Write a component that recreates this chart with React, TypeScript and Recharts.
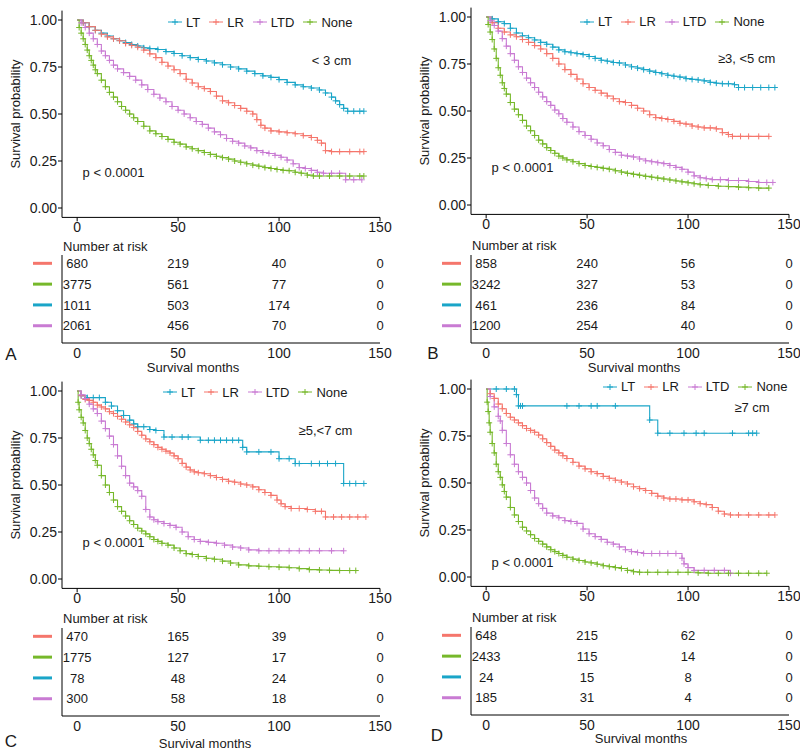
import React from "react";
import {
  LineChart,
  Line,
  XAxis,
  YAxis,
  Legend,
  ReferenceDot,
  ScatterChart,
  Scatter,
} from "recharts";

const FONT = "'Liberation Sans', Arial, Helvetica, sans-serif";
const INK = "#1a1a1a";

const groups = ["LT", "LR", "LTD", "None"];
const colors: Record<string, string> = {
  LT: "#1aa5c8",
  LR: "#f5766c",
  LTD: "#c97bd3",
  None: "#76b82a",
};
const riskOrder = ["LR", "None", "LT", "LTD"];
const riskTimes = [0, 50, 100, 150];

// A: < 3 cm
const aLT = [[0,1],[3,0.985],[6,0.965],[9,0.945],[12,0.93],[15,0.915],[18,0.9],[21,0.89],[24,0.88],[27,0.87],[30,0.862],[33,0.852],[36,0.848],[40,0.843],[44,0.832],[48,0.822],[52,0.81],[56,0.8],[60,0.79],[64,0.782],[68,0.772],[72,0.762],[76,0.75],[80,0.74],[84,0.728],[88,0.715],[92,0.703],[96,0.695],[100,0.683],[104,0.668],[108,0.655],[112,0.645],[116,0.638],[120,0.628],[123,0.612],[126,0.59],[128,0.57],[130,0.55],[132,0.53],[134,0.515],[137,0.515],[140,0.515],[142,0.515]];
const aLR = [[0,1],[3,0.985],[6,0.965],[9,0.945],[12,0.925],[15,0.91],[18,0.9],[21,0.89],[24,0.875],[27,0.865],[30,0.855],[33,0.84],[36,0.82],[39,0.8],[42,0.775],[45,0.755],[48,0.735],[51,0.715],[54,0.685],[57,0.665],[60,0.645],[63,0.635],[66,0.62],[69,0.595],[72,0.57],[75,0.56],[78,0.545],[81,0.53],[84,0.515],[87,0.5],[89,0.47],[91,0.44],[93,0.425],[96,0.41],[100,0.405],[104,0.4],[108,0.395],[112,0.385],[116,0.375],[119,0.36],[121,0.345],[123,0.305],[126,0.3],[130,0.3],[135,0.3],[140,0.3],[142,0.3]];
const aLTD = [[0,1],[2,0.985],[4,0.96],[6,0.93],[8,0.9],[10,0.87],[12,0.835],[14,0.81],[16,0.785],[18,0.76],[20,0.74],[23,0.72],[26,0.7],[29,0.68],[32,0.655],[35,0.63],[38,0.605],[41,0.585],[44,0.565],[47,0.54],[50,0.52],[53,0.5],[56,0.48],[59,0.46],[62,0.445],[65,0.425],[68,0.405],[71,0.39],[74,0.37],[77,0.355],[80,0.345],[83,0.33],[86,0.32],[89,0.305],[92,0.295],[95,0.29],[98,0.28],[101,0.27],[104,0.255],[107,0.235],[110,0.215],[113,0.21],[116,0.2],[119,0.19],[122,0.185],[126,0.185],[130,0.185],[133,0.15],[137,0.15],[141,0.15]];
const aNone = [[0,1],[1,0.96],[2,0.93],[3,0.9],[4,0.87],[5,0.84],[6,0.81],[7,0.785],[8,0.76],[9,0.735],[10,0.715],[12,0.68],[14,0.645],[16,0.615],[18,0.59],[20,0.565],[22,0.54],[24,0.52],[26,0.5],[28,0.48],[30,0.46],[33,0.435],[36,0.41],[39,0.395],[42,0.38],[45,0.365],[48,0.35],[51,0.34],[54,0.325],[57,0.315],[60,0.305],[63,0.295],[66,0.285],[69,0.275],[72,0.268],[75,0.26],[78,0.25],[81,0.243],[84,0.235],[87,0.228],[90,0.222],[93,0.215],[96,0.21],[99,0.205],[102,0.2],[105,0.198],[108,0.19],[111,0.185],[114,0.175],[117,0.17],[120,0.17],[125,0.17],[130,0.17],[135,0.17],[140,0.17],[142,0.17]];
const aRisk = [[680,219,40,0],[3775,561,77,0],[1011,503,174,0],[2061,456,70,0]];

// B: >=3, <5 cm
const bLT = [[0,1],[3,0.99],[6,0.975],[9,0.965],[12,0.94],[15,0.915],[18,0.9],[21,0.89],[24,0.878],[27,0.865],[30,0.855],[33,0.84],[36,0.825],[39,0.815],[42,0.81],[45,0.805],[48,0.8],[51,0.79],[54,0.78],[57,0.77],[60,0.765],[63,0.758],[66,0.755],[69,0.745],[72,0.735],[75,0.728],[78,0.72],[81,0.712],[84,0.705],[87,0.698],[90,0.69],[93,0.685],[96,0.68],[99,0.672],[102,0.668],[105,0.665],[108,0.66],[111,0.652],[114,0.648],[117,0.645],[120,0.645],[123,0.64],[125,0.625],[128,0.625],[132,0.625],[136,0.625],[140,0.625],[143,0.625]];
const bLR = [[0,1],[3,0.97],[6,0.94],[9,0.92],[12,0.905],[15,0.895],[18,0.88],[21,0.865],[24,0.848],[27,0.83],[30,0.805],[33,0.78],[36,0.75],[39,0.72],[42,0.695],[45,0.67],[48,0.645],[51,0.625],[54,0.61],[57,0.595],[60,0.58],[63,0.565],[66,0.55],[69,0.545],[72,0.53],[75,0.515],[78,0.5],[81,0.48],[84,0.465],[87,0.46],[90,0.455],[93,0.445],[96,0.435],[99,0.43],[102,0.42],[105,0.415],[108,0.41],[111,0.41],[114,0.405],[117,0.385],[120,0.375],[122,0.365],[126,0.365],[130,0.365],[135,0.365],[140,0.365]];
const bLTD = [[0,1],[2,0.98],[4,0.955],[6,0.925],[8,0.885],[10,0.845],[12,0.805],[14,0.77],[16,0.735],[18,0.705],[20,0.675],[22,0.65],[24,0.625],[26,0.6],[28,0.575],[30,0.55],[32,0.53],[34,0.505],[36,0.485],[38,0.46],[40,0.44],[43,0.415],[46,0.39],[49,0.37],[52,0.35],[55,0.33],[58,0.315],[61,0.295],[64,0.28],[67,0.265],[70,0.26],[73,0.255],[76,0.245],[79,0.235],[82,0.23],[85,0.225],[88,0.22],[91,0.21],[94,0.2],[97,0.19],[100,0.175],[103,0.155],[106,0.145],[109,0.14],[112,0.135],[116,0.135],[120,0.13],[125,0.13],[130,0.125],[135,0.12],[139,0.12],[142,0.12]];
const bNone = [[0,1],[1,0.96],[2,0.92],[3,0.88],[4,0.83],[5,0.78],[6,0.73],[7,0.69],[8,0.65],[9,0.62],[10,0.59],[12,0.545],[14,0.51],[16,0.48],[18,0.45],[20,0.42],[22,0.395],[24,0.37],[26,0.345],[28,0.325],[30,0.305],[32,0.29],[34,0.275],[36,0.26],[38,0.25],[40,0.24],[43,0.23],[46,0.22],[49,0.21],[52,0.205],[55,0.2],[58,0.195],[61,0.19],[64,0.182],[67,0.175],[70,0.168],[73,0.163],[76,0.158],[79,0.152],[82,0.148],[85,0.143],[88,0.138],[91,0.133],[94,0.128],[97,0.123],[100,0.118],[103,0.113],[106,0.108],[110,0.104],[115,0.1],[120,0.098],[125,0.095],[130,0.092],[135,0.09],[140,0.09]];
const bRisk = [[858,240,56,0],[3242,327,53,0],[461,236,84,0],[1200,254,40,0]];

// C: >=5, <7 cm
const cLT = [[0,1],[2,0.975],[5,0.965],[8,0.965],[11,0.965],[14,0.94],[17,0.92],[20,0.895],[23,0.87],[26,0.845],[28,0.825],[30,0.81],[33,0.81],[36,0.795],[39,0.79],[43,0.755],[47,0.755],[52,0.755],[55,0.755],[61,0.738],[65,0.738],[68,0.738],[71,0.738],[74,0.738],[77,0.738],[80,0.738],[82,0.7],[84,0.676],[90,0.676],[96,0.676],[100,0.64],[105,0.64],[108,0.614],[110,0.614],[116,0.614],[120,0.614],[124,0.614],[128,0.614],[132,0.508],[135,0.508],[138,0.508],[142,0.508]];
const cLR = [[0,1],[2,0.975],[4,0.955],[6,0.95],[8,0.94],[10,0.925],[12,0.915],[14,0.905],[16,0.89],[18,0.88],[20,0.865],[22,0.85],[24,0.835],[26,0.82],[28,0.805],[30,0.785],[32,0.765],[34,0.745],[36,0.73],[38,0.715],[40,0.7],[42,0.69],[44,0.68],[46,0.67],[48,0.655],[50,0.64],[52,0.615],[54,0.595],[56,0.58],[58,0.57],[60,0.565],[63,0.56],[66,0.55],[69,0.54],[72,0.53],[75,0.52],[78,0.515],[81,0.505],[84,0.5],[87,0.49],[90,0.475],[93,0.46],[96,0.445],[99,0.42],[101,0.4],[103,0.385],[106,0.375],[110,0.375],[114,0.37],[118,0.36],[121,0.36],[123,0.33],[127,0.33],[131,0.33],[135,0.33],[139,0.33],[143,0.33]];
const cLTD = [[0,1],[2,0.98],[4,0.96],[6,0.93],[8,0.905],[10,0.88],[12,0.84],[14,0.8],[16,0.76],[18,0.715],[20,0.655],[22,0.6],[24,0.55],[26,0.51],[28,0.49],[30,0.47],[32,0.44],[34,0.37],[36,0.33],[38,0.315],[40,0.305],[43,0.295],[46,0.285],[49,0.275],[52,0.25],[55,0.225],[58,0.21],[61,0.2],[65,0.195],[69,0.19],[73,0.18],[77,0.17],[81,0.165],[85,0.155],[90,0.15],[95,0.15],[100,0.15],[105,0.15],[110,0.15],[115,0.15],[120,0.15],[126,0.15],[132,0.15]];
const cNone = [[0,1],[0.5,0.94],[1,0.9],[2,0.86],[3,0.83],[4,0.79],[5,0.75],[6,0.72],[7,0.69],[8,0.66],[9,0.63],[10,0.605],[12,0.55],[14,0.5],[16,0.46],[18,0.42],[20,0.385],[22,0.36],[24,0.335],[26,0.31],[28,0.29],[30,0.27],[32,0.255],[34,0.24],[36,0.225],[38,0.21],[40,0.2],[42,0.19],[45,0.18],[48,0.165],[51,0.15],[54,0.135],[57,0.13],[60,0.12],[64,0.11],[68,0.105],[72,0.095],[76,0.085],[80,0.075],[85,0.07],[90,0.068],[95,0.065],[100,0.063],[105,0.06],[110,0.055],[115,0.05],[120,0.048],[125,0.046],[130,0.045],[135,0.045],[138,0.045]];
const cRisk = [[470,165,39,0],[1775,127,17,0],[78,48,24,0],[300,58,18,0]];

// D: >=7 cm
const dLT = [[0,1],[5,1],[10,1],[14,1],[15,0.97],[16,0.91],[17,0.91],[18,0.91],[40,0.91],[46,0.91],[52,0.91],[55,0.91],[64,0.91],[81,0.835],[85,0.765],[91,0.765],[98,0.765],[104,0.765],[108,0.765],[122,0.765],[130,0.765],[132,0.765],[134,0.765]];
const dLR = [[0,1],[2,0.975],[4,0.95],[6,0.92],[8,0.895],[10,0.87],[12,0.85],[14,0.835],[16,0.82],[18,0.805],[20,0.79],[22,0.78],[24,0.77],[26,0.755],[28,0.735],[30,0.715],[32,0.695],[34,0.675],[36,0.66],[38,0.645],[40,0.63],[43,0.61],[46,0.59],[49,0.575],[52,0.56],[55,0.55],[58,0.535],[61,0.525],[64,0.515],[67,0.505],[70,0.495],[73,0.48],[76,0.47],[79,0.46],[82,0.445],[85,0.43],[88,0.42],[91,0.415],[94,0.415],[97,0.41],[100,0.41],[103,0.4],[106,0.39],[109,0.385],[112,0.37],[115,0.35],[118,0.335],[121,0.33],[125,0.33],[130,0.33],[135,0.33],[140,0.33],[143,0.33]];
const dLTD = [[0,1],[2,0.96],[4,0.905],[6,0.855],[7,0.83],[8,0.78],[10,0.71],[12,0.65],[14,0.6],[16,0.56],[18,0.53],[20,0.5],[22,0.46],[24,0.42],[26,0.39],[28,0.365],[30,0.34],[33,0.325],[36,0.315],[39,0.3],[42,0.295],[45,0.285],[48,0.255],[51,0.23],[54,0.215],[57,0.2],[60,0.185],[63,0.175],[66,0.16],[69,0.145],[72,0.135],[75,0.13],[78,0.125],[82,0.125],[86,0.125],[90,0.125],[94,0.125],[97,0.1],[98,0.07],[100,0.05],[103,0.035],[108,0.035],[113,0.035],[118,0.035],[121,0.02]];
const dNone = [[0,1],[0.5,0.93],[1,0.88],[1.5,0.82],[2,0.77],[3,0.71],[4,0.66],[5,0.6],[6,0.56],[7,0.53],[8,0.49],[9,0.455],[10,0.425],[12,0.37],[14,0.33],[16,0.295],[18,0.265],[20,0.245],[22,0.225],[24,0.205],[26,0.19],[28,0.175],[30,0.16],[32,0.145],[34,0.135],[36,0.125],[38,0.115],[40,0.105],[43,0.095],[46,0.088],[49,0.08],[52,0.075],[55,0.068],[58,0.06],[61,0.055],[64,0.05],[67,0.045],[70,0.035],[73,0.028],[76,0.025],[80,0.025],[85,0.025],[90,0.025],[95,0.025],[100,0.025],[105,0.022],[110,0.02],[115,0.02],[120,0.02],[125,0.02],[130,0.02],[135,0.02],[139,0.02]];
const dRisk = [[648,215,62,0],[2433,115,14,0],[24,15,8,0],[185,31,4,0]];

const toPts = (arr: number[][]) => arr.map(([t, s]) => ({ t, s }));

// censor mark "+"
const renderCross = (p: any) => {
  const { cx, cy, stroke, index } = p;
  if (index === 0 || cx == null || cy == null) return <g key={`c-${index}`} />;
  return (
    <path
      key={`c-${index}`}
      d={`M${cx - 3},${cy}h6M${cx},${cy - 3}v6`}
      stroke={stroke}
      strokeWidth={1}
      fill="none"
    />
  );
};

const renderLegend = ({ payload }: any) => {
  const items = [...(payload || [])].sort(
    (a: any, b: any) => groups.indexOf(a.value) - groups.indexOf(b.value)
  );
  return (
    <div style={{ display: "flex", alignItems: "center", fontFamily: FONT, fontSize: 13, color: INK, whiteSpace: "nowrap" }}>
      {items.map((it: any) => (
        <span key={it.value} style={{ display: "flex", alignItems: "center", marginRight: 9 }}>
          <svg width={14} height={10}>
            <line x1={0} y1={5} x2={14} y2={5} stroke={it.color} />
            <path d="M7,2v6M4,5h6" stroke={it.color} />
          </svg>
          <span style={{ marginLeft: 4 }}>{it.value}</span>
        </span>
      ))}
    </div>
  );
};

const tickStyle = { fill: INK, fontSize: 14, fontFamily: FONT };

const KMChart = ({ curves, note, noteAt, pAt, legendAt }: any) => (
  <LineChart width={400} height={240} margin={{ top: 10.6, right: 20, bottom: 0.6, left: 0 }}>
    <XAxis
      type="number"
      dataKey="t"
      domain={[-7.5, 150]}
      ticks={[0, 50, 100, 150]}
      allowDataOverflow
      height={22}
      tickSize={4}
      tickMargin={1}
      stroke="#000"
      tick={tickStyle}
    />
    <YAxis
      type="number"
      domain={[-0.05, 1.05]}
      ticks={[0, 0.25, 0.5, 0.75, 1]}
      tickFormatter={(v: number) => v.toFixed(2)}
      allowDataOverflow
      width={62}
      tickSize={4}
      tickMargin={1}
      stroke="#000"
      tick={tickStyle}
      label={{
        value: "Survival probability",
        angle: -90,
        position: "insideLeft",
        offset: 15,
        style: { textAnchor: "middle", fontSize: 13, fill: INK, fontFamily: FONT },
      }}
    />
    <Legend
      layout="horizontal"
      verticalAlign="middle"
      align="center"
      content={renderLegend}
      wrapperStyle={{ left: legendAt[0], top: legendAt[1] - 7.5, width: "auto" }}
    />
    {groups.map((g) => (
      <Line
        key={g}
        name={g}
        data={toPts(curves[g])}
        dataKey="s"
        type="stepAfter"
        stroke={colors[g]}
        strokeWidth={1.1}
        dot={renderCross}
        activeDot={false}
        isAnimationActive={false}
      />
    ))}
    <ReferenceDot
      x={noteAt[0]}
      y={noteAt[1]}
      r={0}
      fill="none"
      stroke="none"
      label={{ value: note, position: "center", fontSize: 13, fill: INK, fontFamily: FONT }}
    />
    <ReferenceDot
      x={pAt[0]}
      y={pAt[1]}
      r={0}
      fill="none"
      stroke="none"
      label={{ value: "p < 0.0001", position: "center", fontSize: 13, fill: INK, fontFamily: FONT }}
    />
  </LineChart>
);

const RiskKey = (props: any) => {
  const { y, payload } = props;
  const g = riskOrder[payload.value - 1];
  return <line x1={33} x2={52} y1={y} y2={y} stroke={colors[g]} strokeWidth={3} />;
};

const RiskCell = (props: any) => (
  <text x={props.cx} y={props.cy} dy="0.36em" textAnchor="middle" fontSize={13} fontFamily={FONT} fill={INK}>
    {props.payload.n}
  </text>
);

const RiskTable = ({ rows }: any) => {
  const pts = rows.flatMap((r: number[], i: number) =>
    r.map((n, j) => ({ t: riskTimes[j], row: i + 1, n }))
  );
  return (
    <ScatterChart width={400} height={118} margin={{ top: 5, right: 20, bottom: 3, left: 0 }}>
      <XAxis
        type="number"
        dataKey="t"
        domain={[-7.5, 150]}
        ticks={riskTimes}
        height={22}
        tickLine={false}
        tickSize={4}
        tickMargin={1}
        stroke="#000"
        tick={tickStyle}
      />
      <YAxis
        type="number"
        dataKey="row"
        domain={[0.6, 4.83]}
        reversed
        ticks={[1, 2, 3, 4]}
        interval={0}
        width={62}
        tickLine={false}
        stroke="#000"
        tick={<RiskKey />}
      />
      <Scatter data={pts} shape={RiskCell} isAnimationActive={false} />
    </ScatterChart>
  );
};

const Txt = ({ x, y, size = 13, start = false, children }: any) => (
  <div
    style={{
      position: "absolute",
      left: x,
      top: y,
      transform: start ? "translate(0, -50%)" : "translate(-50%, -50%)",
      fontSize: size,
      lineHeight: 1,
      whiteSpace: "nowrap",
      fontFamily: FONT,
      color: INK,
    }}
  >
    {children}
  </div>
);

const panels = [
  {
    letter: "A", left: 0, kmTop: 0, tableTop: 250,
    curves: { LT: aLT, LR: aLR, LTD: aLTD, None: aNone }, risk: aRisk,
    note: "< 3 cm", noteAt: [126, 0.787], pAt: [18, 0.19], legendAt: [168, 22],
    nrAt: [63, 245.5], smAt: [193, 367], letterAt: [11, 354],
  },
  {
    letter: "B", left: 409, kmTop: -3, tableTop: 250,
    curves: { LT: bLT, LR: bLR, LTD: bLTD, None: bNone }, risk: bRisk,
    note: "≥3, <5 cm", noteAt: [129, 0.78], pAt: [18, 0.2], legendAt: [171, 24.7],
    nrAt: [472, 245], smAt: [634, 367], letterAt: [433, 353],
  },
  {
    letter: "C", left: 0, kmTop: 371, tableTop: 623,
    curves: { LT: cLT, LR: cLR, LTD: cLTD, None: cNone }, risk: cRisk,
    note: "≥5,<7 cm", noteAt: [123, 0.79], pAt: [18, 0.197], legendAt: [163, 21],
    nrAt: [63, 618], smAt: [205, 743], letterAt: [11, 741],
  },
  {
    letter: "D", left: 409, kmTop: 369, tableTop: 622,
    curves: { LT: dLT, LR: dLR, LTD: dLTD, None: dNone }, risk: dRisk,
    note: "≥7 cm", noteAt: [131.7, 0.904], pAt: [18, 0.08], legendAt: [194, 17.7],
    nrAt: [472, 617], smAt: [641, 738], letterAt: [437, 735],
  },
];

export default function App() {
  return (
    <div
      style={{
        position: "absolute",
        left: 0,
        top: 0,
        width: 800,
        height: 752,
        overflow: "hidden",
        background: "#fff",
      }}
    >
      {panels.map((p) => (
        <React.Fragment key={p.letter}>
          <div style={{ position: "absolute", left: p.left, top: p.kmTop }}>
            <KMChart curves={p.curves} note={p.note} noteAt={p.noteAt} pAt={p.pAt} legendAt={p.legendAt} />
          </div>
          <div style={{ position: "absolute", left: p.left, top: p.tableTop }}>
            <RiskTable rows={p.risk} />
          </div>
          <Txt x={p.nrAt[0]} y={p.nrAt[1]} start>Number at risk</Txt>
          <Txt x={p.smAt[0]} y={p.smAt[1]}>Survival months</Txt>
          <Txt x={p.letterAt[0]} y={p.letterAt[1]} size={17}>{p.letter}</Txt>
        </React.Fragment>
      ))}
    </div>
  );
}
